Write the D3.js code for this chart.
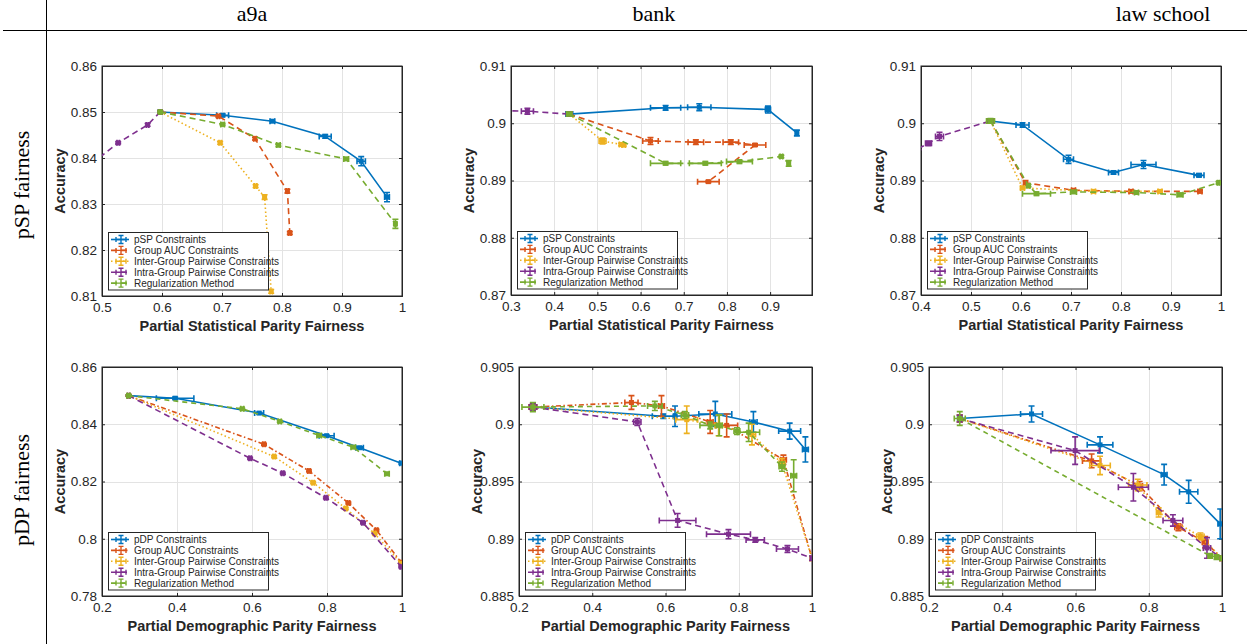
<!DOCTYPE html>
<html>
<head>
<meta charset="utf-8">
<script src="https://cdn.jsdelivr.net/npm/d3@7"></script>
<style>
  body { margin: 0; background: #fff; }
  svg { display: block; }
</style>
</head>
<body>
<svg id="chart" width="1247" height="644"></svg>
<script>
// ---- data: each point is [x, y, xErr, yErr] ----
let datasets = ['a9a', 'bank', 'law school'];
let rowNames = ['pSP fairness', 'pDP fairness'];
let methodsPSP = ['pSP Constraints', 'Group AUC Constraints', 'Inter-Group Pairwise Constraints', 'Intra-Group Pairwise Constraints', 'Regularization Method'];
let methodsPDP = ['pDP Constraints', 'Group AUC Constraints', 'Inter-Group Pairwise Constraints', 'Intra-Group Pairwise Constraints', 'Regularization Method'];

// a9a, pSP
let a9aPspOurs  = [[0.597, 0.8500, 0.003, 0.0002], [0.701, 0.8493, 0.010, 0.0003], [0.784, 0.8480, 0.004, 0.0002], [0.872, 0.8447, 0.010, 0.0004], [0.932, 0.8393, 0.007, 0.0010], [0.975, 0.8315, 0.004, 0.0010]];
let a9aPspAuc   = [[0.597, 0.8500, 0.002, 0.0002], [0.694, 0.8491, 0.002, 0.0002], [0.755, 0.8442, 0.002, 0.0003], [0.809, 0.8328, 0.002, 0.0004], [0.813, 0.8237, 0.002, 0.0003]];
let a9aPspInter = [[0.597, 0.8500, 0.002, 0.0002], [0.697, 0.8433, 0.002, 0.0003], [0.756, 0.8339, 0.002, 0.0003], [0.771, 0.8315, 0.002, 0.0005], [0.782, 0.8110, 0.002, 0.0004]];
let a9aPspIntra = [[0.470, 0.8375, 0.002, 0.0002], [0.527, 0.8433, 0.002, 0.0002], [0.576, 0.8472, 0.002, 0.0003], [0.597, 0.8500, 0.002, 0.0002]];
let a9aPspReg   = [[0.597, 0.8500, 0.002, 0.0002], [0.701, 0.8473, 0.003, 0.0002], [0.794, 0.8428, 0.003, 0.0003], [0.907, 0.8398, 0.004, 0.0003], [0.989, 0.8257, 0.002, 0.0010]];

// bank, pSP
let bankPspOurs  = [[0.435, 0.9016, 0.008, 0.0003], [0.658, 0.9027, 0.035, 0.0004], [0.736, 0.9028, 0.027, 0.0006], [0.895, 0.9024, 0.006, 0.0006], [0.962, 0.8983, 0.003, 0.0005]];
let bankPspAuc   = [[0.435, 0.9016, 0.006, 0.0003], [0.623, 0.8969, 0.018, 0.0006], [0.728, 0.8967, 0.018, 0.0004], [0.809, 0.8967, 0.018, 0.0004], [0.865, 0.8962, 0.025, 0.0002], [0.757, 0.8898, 0.025, 0.0002]];
let bankPspInter = [[0.435, 0.9016, 0.006, 0.0003], [0.512, 0.8969, 0.008, 0.0005], [0.555, 0.8963, 0.004, 0.0002], [0.561, 0.8962, 0.004, 0.0002]];
let bankPspIntra = [[0.280, 0.9022, 0.002, 0.0002], [0.338, 0.9021, 0.014, 0.0005], [0.435, 0.9016, 0.006, 0.0003]];
let bankPspReg   = [[0.435, 0.9016, 0.006, 0.0003], [0.658, 0.8930, 0.035, 0.0003], [0.750, 0.8930, 0.037, 0.0003], [0.829, 0.8933, 0.030, 0.0003], [0.926, 0.8942, 0.003, 0.0002], [0.943, 0.8930, 0.003, 0.0005]];

// law school, pSP
let lawPspOurs  = [[0.539, 0.9004, 0.006, 0.0003], [0.603, 0.8997, 0.013, 0.0004], [0.695, 0.8937, 0.010, 0.0007], [0.785, 0.8914, 0.010, 0.0003], [0.845, 0.8928, 0.025, 0.0007], [0.956, 0.8909, 0.010, 0.0003]];
let lawPspAuc   = [[0.539, 0.9004, 0.004, 0.0003], [0.609, 0.8896, 0.004, 0.0004], [0.705, 0.8883, 0.004, 0.0002], [0.820, 0.8881, 0.004, 0.0002], [0.958, 0.8881, 0.004, 0.0002]];
let lawPspInter = [[0.539, 0.9004, 0.004, 0.0003], [0.603, 0.8887, 0.004, 0.0002], [0.745, 0.8881, 0.004, 0.0002], [0.878, 0.8881, 0.004, 0.0002]];
let lawPspIntra = [[0.395, 0.8956, 0.002, 0.0002], [0.415, 0.8965, 0.006, 0.0004], [0.437, 0.8977, 0.008, 0.0007], [0.539, 0.9004, 0.004, 0.0003]];
let lawPspReg   = [[0.539, 0.9004, 0.008, 0.0004], [0.615, 0.8891, 0.003, 0.0002], [0.631, 0.8877, 0.028, 0.0003], [0.705, 0.8880, 0.006, 0.0002], [0.831, 0.8879, 0.004, 0.0002], [0.918, 0.8875, 0.006, 0.0003], [0.995, 0.8896, 0.002, 0.0002]];

// a9a, pDP
let a9aPdpOurs  = [[0.271, 0.8500, 0.003, 0.0002], [0.395, 0.8491, 0.050, 0.0004], [0.619, 0.8439, 0.012, 0.0003], [0.799, 0.8360, 0.020, 0.0003], [0.887, 0.8318, 0.010, 0.0003], [0.998, 0.8264, 0.004, 0.0003]];
let a9aPdpAuc   = [[0.271, 0.8500, 0.003, 0.0002], [0.632, 0.8330, 0.003, 0.0003], [0.752, 0.8237, 0.003, 0.0003], [0.857, 0.8125, 0.003, 0.0003], [0.932, 0.8030, 0.003, 0.0003], [0.998, 0.7917, 0.003, 0.0003]];
let a9aPdpInter = [[0.271, 0.8500, 0.003, 0.0002], [0.659, 0.8287, 0.003, 0.0003], [0.763, 0.8196, 0.003, 0.0003], [0.850, 0.8106, 0.003, 0.0003], [0.927, 0.8018, 0.003, 0.0003], [0.998, 0.7913, 0.003, 0.0003]];
let a9aPdpIntra = [[0.271, 0.8500, 0.003, 0.0002], [0.595, 0.8281, 0.003, 0.0003], [0.682, 0.8229, 0.003, 0.0003], [0.797, 0.8143, 0.003, 0.0003], [0.896, 0.8056, 0.003, 0.0003], [0.998, 0.7902, 0.003, 0.0003]];
let a9aPdpReg   = [[0.271, 0.8500, 0.004, 0.0003], [0.574, 0.8454, 0.004, 0.0002], [0.674, 0.8410, 0.004, 0.0003], [0.779, 0.8361, 0.006, 0.0003], [0.870, 0.8320, 0.006, 0.0003], [0.960, 0.8227, 0.006, 0.0004]];

// bank, pDP
let bankPdpOurs  = [[0.238, 0.9015, 0.010, 0.0003], [0.594, 0.9007, 0.030, 0.0002], [0.626, 0.9007, 0.004, 0.0009], [0.736, 0.9009, 0.045, 0.0011], [0.840, 0.9002, 0.010, 0.0009], [0.939, 0.8994, 0.030, 0.0007], [0.982, 0.8978, 0.008, 0.0011]];
let bankPdpAuc   = [[0.238, 0.9015, 0.010, 0.0003], [0.507, 0.9019, 0.018, 0.0006], [0.589, 0.9016, 0.008, 0.0009], [0.722, 0.9002, 0.008, 0.0010], [0.767, 0.8999, 0.030, 0.0010], [0.922, 0.8969, 0.008, 0.0004], [1.000, 0.8883, 0.002, 0.0002]];
let bankPdpInter = [[0.238, 0.9015, 0.010, 0.0003], [0.658, 0.9004, 0.030, 0.0012], [0.745, 0.8999, 0.010, 0.0009], [0.836, 0.8991, 0.010, 0.0009], [0.918, 0.8966, 0.008, 0.0004], [1.000, 0.8883, 0.002, 0.0002]];
let bankPdpIntra = [[0.238, 0.9015, 0.010, 0.0003], [0.523, 0.9002, 0.010, 0.0003], [0.633, 0.8916, 0.050, 0.0006], [0.772, 0.8904, 0.060, 0.0004], [0.845, 0.8899, 0.025, 0.0002], [0.933, 0.8891, 0.030, 0.0003], [1.000, 0.8883, 0.002, 0.0002]];
let bankPdpReg   = [[0.238, 0.9015, 0.030, 0.0004], [0.571, 0.9016, 0.020, 0.0004], [0.653, 0.9008, 0.010, 0.0003], [0.722, 0.8999, 0.028, 0.0003], [0.747, 0.8999, 0.008, 0.0009], [0.795, 0.8994, 0.008, 0.0003], [0.827, 0.8993, 0.030, 0.0008], [0.918, 0.8963, 0.008, 0.0004], [0.950, 0.8955, 0.008, 0.0014]];

// law school, pDP
let lawPdpOurs  = [[0.284, 0.9005, 0.006, 0.0003], [0.480, 0.9009, 0.030, 0.0007], [0.667, 0.8982, 0.035, 0.0007], [0.842, 0.8956, 0.008, 0.0009], [0.909, 0.8941, 0.025, 0.0010], [0.995, 0.8913, 0.006, 0.0013]];
let lawPdpAuc   = [[0.284, 0.9005, 0.004, 0.0003], [0.644, 0.8968, 0.025, 0.0006], [0.775, 0.8946, 0.008, 0.0004], [0.881, 0.8910, 0.010, 0.0003], [0.954, 0.8897, 0.008, 0.0005], [1.000, 0.8883, 0.002, 0.0002]];
let lawPdpInter = [[0.284, 0.9005, 0.004, 0.0003], [0.667, 0.8964, 0.028, 0.0008], [0.770, 0.8947, 0.025, 0.0005], [0.827, 0.8923, 0.006, 0.0004], [0.941, 0.8902, 0.010, 0.0003], [1.000, 0.8883, 0.002, 0.0002]];
let lawPdpIntra = [[0.284, 0.9005, 0.004, 0.0003], [0.599, 0.8977, 0.066, 0.0012], [0.758, 0.8945, 0.041, 0.0012], [0.866, 0.8916, 0.027, 0.0005], [0.959, 0.8892, 0.010, 0.0009], [1.000, 0.8883, 0.002, 0.0002]];
let lawPdpReg   = [[0.284, 0.9005, 0.015, 0.0006], [0.968, 0.8885, 0.006, 0.0002], [0.985, 0.8884, 0.004, 0.0002], [1.000, 0.8883, 0.002, 0.0002]];

// axis ticks per panel
let ticksX = [
  [0.5, 0.6, 0.7, 0.8, 0.9, 1], [0.3, 0.4, 0.5, 0.6, 0.7, 0.8, 0.9], [0.4, 0.5, 0.6, 0.7, 0.8, 0.9, 1],
  [0.2, 0.4, 0.6, 0.8, 1], [0.2, 0.4, 0.6, 0.8, 1], [0.2, 0.4, 0.6, 0.8, 1]
];
let ticksY = [
  [0.81, 0.82, 0.83, 0.84, 0.85, 0.86], [0.87, 0.88, 0.89, 0.9, 0.91], [0.87, 0.88, 0.89, 0.9, 0.91],
  [0.78, 0.8, 0.82, 0.84, 0.86], [0.885, 0.89, 0.895, 0.9, 0.905], [0.885, 0.89, 0.895, 0.9, 0.905]
];
let domainsX = [[0.5, 1], [0.3, 0.997], [0.4, 1], [0.2, 1], [0.2, 1], [0.2, 1]];
let domainsY = [[0.81, 0.86], [0.87, 0.91], [0.87, 0.91], [0.78, 0.86], [0.885, 0.905], [0.885, 0.905]];

let seriesByPanel = [
  [a9aPspOurs, a9aPspAuc, a9aPspInter, a9aPspIntra, a9aPspReg],
  [bankPspOurs, bankPspAuc, bankPspInter, bankPspIntra, bankPspReg],
  [lawPspOurs, lawPspAuc, lawPspInter, lawPspIntra, lawPspReg],
  [a9aPdpOurs, a9aPdpAuc, a9aPdpInter, a9aPdpIntra, a9aPdpReg],
  [bankPdpOurs, bankPdpAuc, bankPdpInter, bankPdpIntra, bankPdpReg],
  [lawPdpOurs, lawPdpAuc, lawPdpInter, lawPdpIntra, lawPdpReg]
];

// ---- styling / layout ----
let colors = ['#0072BD', '#D95319', '#EDB120', '#7E2F8E', '#77AC30'];
let dashes = [null, '6,4', '1.5,2.5', '6,4', '6,4'];
let dashesRow2 = [null, '5,2.5,1.5,2.5', '1.5,2.5', '6,4', '5,4'];

// plot boxes [left, top, right, bottom]
let boxes = [
  [102, 66, 402, 296], [511, 66, 812, 295], [921, 66, 1221, 295],
  [102, 367, 402, 596], [519, 367, 812, 596], [929, 367, 1222, 596]
];

let svg = d3.select('#chart');
let ink = '#262626';

// table frame
svg.append('line').attr('x1', 46.5).attr('x2', 46.5).attr('y1', 0).attr('y2', 644)
  .attr('stroke', '#000').attr('stroke-width', 1);
svg.append('line').attr('x1', 3).attr('x2', 1247).attr('y1', 30.5).attr('y2', 30.5)
  .attr('stroke', '#000').attr('stroke-width', 1.2);

let headerX = [252, 654, 1163];
datasets.forEach((name, i) => {
  svg.append('text').attr('x', headerX[i]).attr('y', 21)
    .attr('text-anchor', 'middle')
    .style('font-family', '"Liberation Serif", "DejaVu Serif", serif')
    .style('font-size', '22px')
    .text(name);
});
let rowCenterY = [185, 490];
rowNames.forEach((name, i) => {
  svg.append('text')
    .attr('transform', `translate(29,${rowCenterY[i]}) rotate(-90)`)
    .attr('text-anchor', 'middle')
    .style('font-family', '"Liberation Serif", "DejaVu Serif", serif')
    .style('font-size', '22px')
    .text(name);
});

let fmt = d => String(+d.toFixed(3));

boxes.forEach((b, p) => {
  let [x0, y0, x1, y1] = b;
  let row = p < 3 ? 0 : 1;
  let x = d3.scaleLinear().domain(domainsX[p]).range([x0, x1]);
  let y = d3.scaleLinear().domain(domainsY[p]).range([y1, y0]);
  let g = svg.append('g');

  // grid
  g.append('g').selectAll('line').data(ticksX[p]).join('line')
    .attr('x1', d => Math.round(x(d)) + 0.5).attr('x2', d => Math.round(x(d)) + 0.5)
    .attr('y1', y0).attr('y2', y1).attr('stroke', '#e3e3e3').attr('stroke-width', 1);
  g.append('g').selectAll('line').data(ticksY[p]).join('line')
    .attr('y1', d => Math.round(y(d)) + 0.5).attr('y2', d => Math.round(y(d)) + 0.5)
    .attr('x1', x0).attr('x2', x1).attr('stroke', '#e3e3e3').attr('stroke-width', 1);

  // axes with inward ticks
  let ax = g.append('g').attr('transform', `translate(0,${y1})`)
    .call(d3.axisBottom(x).tickValues(ticksX[p]).tickFormat(fmt).tickSize(-3).tickPadding(6));
  g.append('g').attr('transform', `translate(0,${y0})`)
    .call(d3.axisTop(x).tickValues(ticksX[p]).tickFormat('').tickSize(-3));
  let ay = g.append('g').attr('transform', `translate(${x0},0)`)
    .call(d3.axisLeft(y).tickValues(ticksY[p]).tickFormat(fmt).tickSize(-3).tickPadding(5));
  g.append('g').attr('transform', `translate(${x1},0)`)
    .call(d3.axisRight(y).tickValues(ticksY[p]).tickFormat('').tickSize(-3));
  g.selectAll('.domain').attr('stroke', ink);
  g.selectAll('.tick line').attr('stroke', ink);
  g.selectAll('.tick text').attr('fill', ink)
    .style('font-family', 'Arial, "Liberation Sans", Helvetica, sans-serif').style('font-size', '13.5px');
  g.append('rect').attr('x', x0).attr('y', y0).attr('width', x1 - x0).attr('height', y1 - y0)
    .attr('fill', 'none').attr('stroke', ink).attr('stroke-width', 1);

  // axis labels
  g.append('text')
    .attr('x', (x0 + x1) / 2).attr('y', y1 + 35)
    .attr('text-anchor', 'middle').attr('fill', ink)
    .style('font-family', 'Arial, "Liberation Sans", sans-serif').style('font-weight', 'bold').style('font-size', '14.5px')
    .text(row === 0 ? 'Partial Statistical Parity Fairness' : 'Partial Demographic Parity Fairness');
  g.append('text')
    .attr('transform', `translate(${x0 - 37},${(y0 + y1) / 2}) rotate(-90)`)
    .attr('text-anchor', 'middle').attr('fill', ink)
    .style('font-family', 'Arial, "Liberation Sans", sans-serif').style('font-weight', 'bold').style('font-size', '14.5px')
    .text('Accuracy');

  // clip
  let clipId = 'clip' + p;
  svg.append('clipPath').attr('id', clipId).append('rect')
    .attr('x', x0).attr('y', y0).attr('width', x1 - x0).attr('height', y1 - y0);
  let plot = g.append('g').attr('clip-path', `url(#${clipId})`);

  let line = d3.line().x(d => x(d[0])).y(d => y(d[1]));
  let styleSet = row === 0 ? dashes : dashesRow2;

  seriesByPanel[p].forEach((pts, s) => {
    let sg = plot.append('g');
    sg.append('path').datum(pts).attr('d', line)
      .attr('fill', 'none').attr('stroke', colors[s]).attr('stroke-width', 1.6)
      .attr('stroke-dasharray', styleSet[s]);
    // error bars
    let eb = sg.selectAll('g.eb').data(pts).join('g').attr('class', 'eb');
    eb.append('path')
      .attr('d', d => {
        let cx = x(d[0]), cy = y(d[1]);
        let xl = x(d[0] - d[2]), xr = x(d[0] + d[2]);
        let yt = y(d[1] + d[3]), yb = y(d[1] - d[3]);
        let c = 3;
        return `M${xl},${cy}H${xr}M${xl},${cy - c}V${cy + c}M${xr},${cy - c}V${cy + c}` +
               `M${cx},${yt}V${yb}M${cx - c},${yt}H${cx + c}M${cx - c},${yb}H${cx + c}`;
      })
      .attr('fill', 'none').attr('stroke', colors[s]).attr('stroke-width', 1.6);
    eb.append('rect')
      .attr('x', d => x(d[0]) - 2.5).attr('y', d => y(d[1]) - 2.5)
      .attr('width', 5).attr('height', 5).attr('fill', colors[s]);
  });

  // legend
  let names = row === 0 ? methodsPSP : methodsPDP;
  let lx = x0 + 6, ly = y1 - 64;
  let leg = g.append('g').attr('transform', `translate(${lx},${ly})`);
  leg.append('rect').attr('x', 0.5).attr('y', 0.5).attr('width', 160).attr('height', 57.5)
    .attr('fill', '#fff').attr('stroke', ink).attr('stroke-width', 1);
  names.forEach((n, s) => {
    let ey = 7.5 + s * 10.9;
    let le = leg.append('g').attr('transform', `translate(0,${ey})`);
    le.append('line').attr('x1', 3).attr('x2', 21).attr('y1', 0).attr('y2', 0)
      .attr('stroke', colors[s]).attr('stroke-width', 1.6).attr('stroke-dasharray', styleSet[s]);
    le.append('path')
      .attr('d', 'M8,0H18M8,-2.5V2.5M18,-2.5V2.5M13,-4V4M10.5,-4H15.5M10.5,4H15.5')
      .attr('fill', 'none').attr('stroke', colors[s]).attr('stroke-width', 1.4);
    le.append('text').attr('x', 26).attr('y', 3.6).attr('fill', ink)
      .style('font-family', 'Arial, "Liberation Sans", sans-serif').style('font-size', '10px')
      .text(n);
  });
});
</script>
</body>
</html>
